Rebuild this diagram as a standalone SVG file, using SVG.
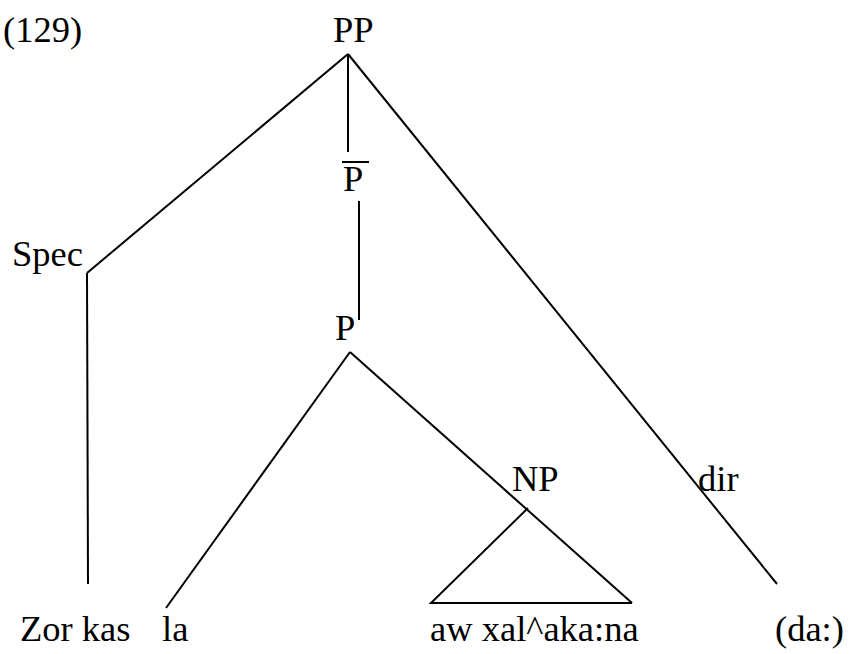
<svg xmlns="http://www.w3.org/2000/svg" width="850" height="654" viewBox="0 0 850 654">
<style>
text{font-family:'Liberation Serif','Times New Roman',serif;font-size:36.5px;fill:#000}
.e{stroke:#000;stroke-width:2;fill:none}
</style>
<rect width="850" height="654" fill="#fff"/>
<g id="connectors">
<line class="e" x1="348" y1="54" x2="87" y2="273"/>
<line class="e" x1="87" y1="273" x2="88" y2="584"/>
<line class="e" x1="348" y1="54" x2="348" y2="152"/>
<line class="e" x1="348" y1="54" x2="777" y2="584"/>
<line class="e" x1="359" y1="201" x2="359" y2="320"/>
<line class="e" x1="350" y1="352" x2="166" y2="608"/>
<line class="e" x1="350" y1="352" x2="632" y2="603"/>
<polyline class="e" points="528,508 431,603 632,603"/>
</g>
<g id="label129"><text x="3" y="42">(129)</text></g>
<g id="PP"><text x="333" y="42">PP</text></g>
<g id="Pbar"><line class="e" x1="342" y1="162" x2="369" y2="162"/><text x="343" y="191">P</text></g>
<g id="Spec"><text x="12" y="266">Spec</text></g>
<g id="P"><text x="335" y="340">P</text></g>
<g id="NP"><text x="512" y="491">NP</text></g>
<g id="dir"><text x="698" y="491">dir</text></g>
<g id="ZorKas"><text x="20" y="641">Zor kas</text></g>
<g id="la"><text x="162" y="641">la</text></g>
<g id="awxal"><text x="430" y="641">aw xal^aka:na</text></g>
<g id="da"><text x="775" y="641">(da:)</text></g>
</svg>
